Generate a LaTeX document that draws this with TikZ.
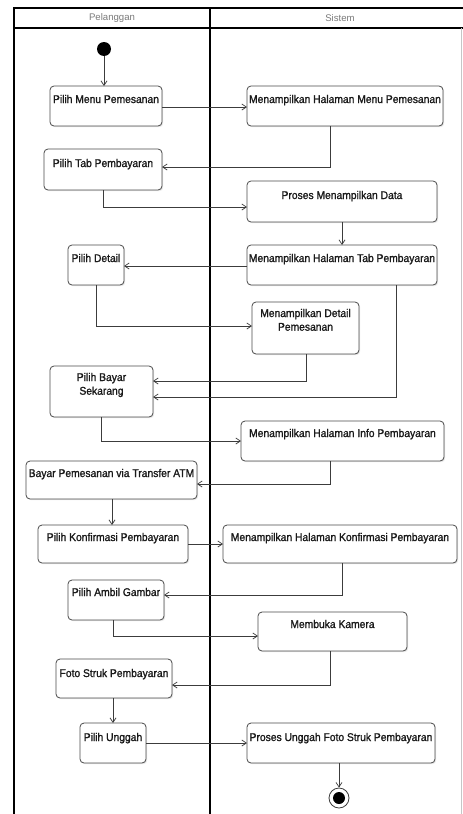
\documentclass[tikz,border=0pt]{standalone}
\usepackage{fontspec}
\setmainfont{Liberation Sans}
\newfontfamily\actfont[FakeStretch=0.92,FakeBold=1.3]{Liberation Sans}
\usetikzlibrary{arrows.meta,calc,shadows}

\definecolor{boxline}{HTML}{4A4A4A}
\definecolor{flowline}{HTML}{3C3C3C}
\definecolor{lanetext}{HTML}{7A7A7A}
\definecolor{acttxt}{HTML}{1A1A1A}

\tikzset{
  actbox/.style={draw=boxline, line width=0.8pt, rounded corners=4pt, fill=white,
    drop shadow={shadow xshift=1.2pt, shadow yshift=-1.2pt, opacity=0.18},
    inner sep=0pt, outer sep=0pt},
  acttext/.style={font=\actfont\fontsize{11.2}{14}\selectfont, text=acttxt,
    inner sep=0pt, anchor=base},
  flow/.style={draw=flowline, line width=0.75pt,
    -{Straight Barb[length=4.5pt,width=6pt]}},
  lane/.style={draw=black, line width=1.3pt},
  lanelabel/.style={font=\fontsize{9.6}{11}\selectfont, text=lanetext, inner sep=0pt},
}

% activity: name, left, top, right, bottom, text baseline, text
\newcommand\actnode[7]{%
  \node[actbox, anchor=north west, minimum width={(#4)-(#2)},
        minimum height={(#5)-(#3)}] (#1) at (#2,#3) {};
  \node[acttext] (#1-text) at ({((#2)+(#4))/2},#6) {#7};
}

\begin{document}
\begin{tikzpicture}[x=1pt,y=-1pt]
\useasboundingbox (0,0) rectangle (463,814);
\fill[white] (0,0) rectangle (463,814);

% swimlane frame
\draw[lane] (14,830) -- (14,8) -- (470,8);
\draw[lane] (14,28) -- (470,28);
\draw[lane] (210,8) -- (210,830);
\draw[gray!45, line width=0.6pt] (461.5,28) -- (461.5,830);
\node[lanelabel] (lane-a) at (112,18.5) {Pelanggan};
\node[lanelabel] (lane-b) at (340,18.5) {Sistem};

% initial and final states
\node[circle, fill=black, minimum size=14pt, inner sep=0pt] (start) at (104,49) {};
\node[circle, draw=flowline, line width=0.8pt, fill=white, minimum size=20pt,
      inner sep=0pt] (end) at (339,798) {};
\node[circle, fill=black, minimum size=12pt, inner sep=0pt] (end-dot) at (end.center) {};

% activities
\actnode{pm}{50}{86}{162}{126}{103}{Pilih Menu Pemesanan}
\actnode{mm}{247}{86}{443}{126}{103}{Menampilkan Halaman Menu Pemesanan}
\actnode{pt}{44}{149}{162}{190}{167}{Pilih Tab Pembayaran}
\actnode{pd}{247}{181}{437}{222}{199}{Proses Menampilkan Data}
\actnode{mt}{247}{245}{437}{285}{262}{Menampilkan Halaman Tab Pembayaran}
\actnode{pdt}{68}{245}{124}{285}{262}{Pilih Detail}
\actnode{md}{252}{302}{359}{354}{317}{\begin{tabular}[t]{@{}c@{}}Menampilkan Detail\\[-0.3pt]Pemesanan\end{tabular}}
\actnode{pb}{50}{366}{153}{417}{381}{\begin{tabular}[t]{@{}c@{}}Pilih Bayar\\[-0.3pt]Sekarang\end{tabular}}
\actnode{mi}{241}{421}{444}{461}{437}{Menampilkan Halaman Info Pembayaran}
\actnode{bp}{26}{461}{197}{499}{477}{Bayar Pemesanan via Transfer ATM}
\actnode{pk}{38}{525}{188}{563}{541}{Pilih Konfirmasi Pembayaran}
\actnode{mk}{223}{525}{457}{563}{541}{Menampilkan Halaman Konfirmasi Pembayaran}
\actnode{pa}{68}{580}{164}{620}{596}{Pilih Ambil Gambar}
\actnode{mb}{258}{612}{407}{651}{628}{Membuka Kamera}
\actnode{fs}{56}{659}{172}{698}{677}{Foto Struk Pembayaran}
\actnode{pu}{80}{723}{146}{763}{741}{Pilih Unggah}
\actnode{pf}{247}{723}{435}{763}{741}{Proses Unggah Foto Struk Pembayaran}

% control flows
\draw[flow] (start) -- (start |- pm.north);
\draw[flow] (pm.east |- 0,107) -- (mm.west |- 0,107);
\draw[flow] (330,0 |- mm.south) -- (330,167) -- (pt.east |- 0,167);
\draw[flow] (103,0 |- pt.south) -- (103,207) -- (pd.west |- 0,207);
\draw[flow] (pd.south) -- (mt.north);
\draw[flow] (mt.west |- 0,266) -- (pdt.east |- 0,266);
\draw[flow] (96,0 |- pdt.south) -- (96,326) -- (md.west |- 0,326);
\draw[flow] (306,0 |- md.south) -- (306,381) -- (pb.east |- 0,381);
\draw[flow] (396,0 |- mt.south) -- (396,397) -- (pb.east |- 0,397);
\draw[flow] (101,0 |- pb.south) -- (101,441) -- (mi.west |- 0,441);
\draw[flow] (330,0 |- mi.south) -- (330,484) -- (bp.east |- 0,484);
\draw[flow] (112,0 |- bp.south) -- (112,0 |- pk.north);
\draw[flow] (pk.east |- 0,544) -- (mk.west |- 0,544);
\draw[flow] (342,0 |- mk.south) -- (342,595) -- (pa.east |- 0,595);
\draw[flow] (113,0 |- pa.south) -- (113,636) -- (mb.west |- 0,636);
\draw[flow] (330,0 |- mb.south) -- (330,685) -- (fs.east |- 0,685);
\draw[flow] (113,0 |- fs.south) -- (113,0 |- pu.north);
\draw[flow] (pu.east |- 0,743) -- (pf.west |- 0,743);
\draw[flow] (339,0 |- pf.south) -- (end);
\end{tikzpicture}
\end{document}
